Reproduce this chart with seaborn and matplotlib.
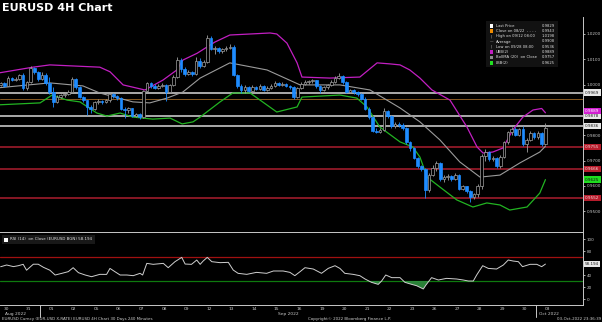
import numpy as np
import pandas as pd
import matplotlib
matplotlib.use("Agg")
import matplotlib.pyplot as plt
import matplotlib.transforms as mtransforms
from matplotlib.patches import Rectangle
import seaborn as sns

# ---------------------------------------------------------------------------
# EURUSD 4-hour bars, 30 Aug 2022 - 03 Oct 2022 (six bars per trading day)
# ---------------------------------------------------------------------------
first_open = 0.9995
close = [
    0.9998, 1.0008, 0.9996, 1.0028, 1.0020, 1.0024,  # 30 Aug
    1.0038, 0.9985, 1.0010, 1.0065, 1.0048, 1.0022,  # 31 Aug
    1.0040, 1.0006, 0.9970, 0.9932, 0.9952, 0.9958,  # 01 Sep
    0.9965, 0.9972, 1.0022, 0.9990, 0.9952, 0.9938,  # 02 Sep
    0.9912, 0.9905, 0.9930, 0.9936, 0.9930, 0.9938,  # 05 Sep
    0.9962, 0.9955, 0.9946, 0.9905, 0.9900, 0.9906,  # 06 Sep
    0.9878, 0.9884, 0.9874, 0.9975, 1.0005, 0.9995,  # 07 Sep
    0.9988, 0.9996, 0.9999, 0.9972, 0.9998, 1.0032,  # 08 Sep
    1.0098, 1.0060, 1.0042, 1.0048, 1.0044, 1.0095,  # 09 Sep
    1.0072, 1.0090, 1.0185, 1.0142, 1.0146, 1.0132,  # 12 Sep
    1.0140, 1.0146, 1.0150, 1.0040, 0.9996, 0.9980,  # 13 Sep
    0.9992, 0.9976, 0.9990, 0.9984, 0.9994, 0.9980,  # 14 Sep
    0.9988, 0.9996, 1.0008, 1.0000, 1.0004, 0.9996,  # 15 Sep
    0.9990, 0.9952, 0.9986, 1.0004, 1.0010, 1.0014,  # 16 Sep
    1.0018, 0.9995, 0.9980, 0.9990, 0.9998, 1.0012,  # 19 Sep
    1.0026, 1.0034, 1.0012, 0.9972, 0.9978, 0.9970,  # 20 Sep
    0.9962, 0.9945, 0.9904, 0.9872, 0.9818, 0.9814,  # 21 Sep
    0.9822, 0.9895, 0.9878, 0.9836, 0.9846, 0.9842,  # 22 Sep
    0.9828, 0.9772, 0.9750, 0.9712, 0.9678, 0.9668,  # 23 Sep
    0.9585, 0.9645, 0.9672, 0.9690, 0.9628, 0.9636,  # 26 Sep
    0.9640, 0.9628, 0.9642, 0.9590, 0.9598, 0.9580,  # 27 Sep
    0.9558, 0.9568, 0.9600, 0.9720, 0.9734, 0.9706,  # 28 Sep
    0.9712, 0.9678, 0.9716, 0.9772, 0.9812, 0.9826,  # 29 Sep
    0.9802, 0.9824, 0.9764, 0.9782, 0.9810, 0.9792,  # 30 Sep
    0.9808, 0.9764, 0.9829,                          # 03 Oct
]
high = [
    1.0006, 1.0012, 1.0012, 1.0035, 1.0032, 1.0030,
    1.0044, 1.0046, 1.0016, 1.0072, 1.0070, 1.0052,
    1.0048, 1.0046, 1.0030, 0.9990, 0.9960, 0.9964,
    0.9972, 0.9978, 1.0030, 1.0026, 0.9995, 0.9956,
    0.9938, 0.9918, 0.9935, 0.9942, 0.9940, 0.9945,
    0.9970, 0.9968, 0.9958, 0.9950, 0.9912, 0.9912,
    0.9908, 0.9890, 0.9888, 0.9980, 1.0012, 1.0010,
    1.0002, 1.0002, 1.0006, 1.0003, 1.0004, 1.0040,
    1.0110, 1.0104, 1.0068, 1.0056, 1.0054, 1.0110,
    1.0105, 1.0098, 1.0198, 1.0192, 1.0152, 1.0150,
    1.0146, 1.0152, 1.0160, 1.0155, 1.0042, 1.0002,
    0.9998, 0.9996, 0.9998, 0.9996, 1.0004, 0.9998,
    0.9994, 1.0002, 1.0015, 1.0012, 1.0010, 1.0008,
    1.0000, 0.9994, 0.9992, 1.0012, 1.0018, 1.0020,
    1.0024, 1.0020, 0.9998, 0.9996, 1.0004, 1.0020,
    1.0036, 1.0046, 1.0038, 1.0016, 0.9984, 0.9982,
    0.9976, 0.9966, 0.9950, 0.9910, 0.9876, 0.9830,
    0.9830, 0.9908, 0.9900, 0.9882, 0.9852, 0.9852,
    0.9850, 0.9832, 0.9778, 0.9755, 0.9716, 0.9684,
    0.9672, 0.9652, 0.9682, 0.9698, 0.9694, 0.9642,
    0.9648, 0.9644, 0.9650, 0.9648, 0.9604, 0.9600,
    0.9584, 0.9574, 0.9608, 0.9726, 0.9745, 0.9738,
    0.9718, 0.9716, 0.9722, 0.9778, 0.9818, 0.9832,
    0.9834, 0.9830, 0.9836, 0.9790, 0.9816, 0.9814,
    0.9816, 0.9812, 0.9849,
]
low = [
    0.9988, 0.9995, 0.9990, 0.9994, 1.0014, 1.0016,
    1.0018, 0.9978, 0.9980, 1.0005, 1.0042, 1.0016,
    1.0018, 1.0000, 0.9962, 0.9912, 0.9928, 0.9946,
    0.9952, 0.9960, 0.9966, 0.9982, 0.9946, 0.9930,
    0.9880, 0.9890, 0.9898, 0.9924, 0.9924, 0.9926,
    0.9932, 0.9946, 0.9938, 0.9898, 0.9868, 0.9890,
    0.9872, 0.9872, 0.9866, 0.9870, 0.9970, 0.9988,
    0.9982, 0.9984, 0.9990, 0.9936, 0.9966, 0.9995,
    1.0028, 1.0050, 1.0036, 1.0040, 1.0036, 1.0040,
    1.0066, 1.0068, 1.0085, 1.0136, 1.0120, 1.0126,
    1.0126, 1.0134, 1.0140, 1.0034, 0.9988, 0.9968,
    0.9966, 0.9970, 0.9972, 0.9978, 0.9980, 0.9974,
    0.9974, 0.9984, 0.9990, 0.9994, 0.9994, 0.9990,
    0.9984, 0.9945, 0.9948, 0.9982, 1.0000, 1.0004,
    1.0006, 0.9988, 0.9968, 0.9975, 0.9984, 0.9994,
    1.0008, 1.0022, 1.0004, 0.9966, 0.9966, 0.9962,
    0.9955, 0.9938, 0.9898, 0.9866, 0.9812, 0.9808,
    0.9808, 0.9818, 0.9870, 0.9830, 0.9828, 0.9834,
    0.9822, 0.9766, 0.9740, 0.9706, 0.9670, 0.9660,
    0.9553, 0.9578, 0.9640, 0.9660, 0.9620, 0.9614,
    0.9622, 0.9620, 0.9622, 0.9584, 0.9584, 0.9574,
    0.9536, 0.9548, 0.9556, 0.9590, 0.9700, 0.9700,
    0.9700, 0.9672, 0.9670, 0.9710, 0.9766, 0.9800,
    0.9798, 0.9798, 0.9758, 0.9734, 0.9776, 0.9786,
    0.9786, 0.9758, 0.9762,
]

# Bollinger bands (20, 2) on close, sampled along the bar axis
ubb_bar = [0, 9.6, 14.1, 27.4, 30.1, 33.6, 39.4, 44.2, 47.9, 49.5, 53.3, 58.0,
           62.0, 67.4, 72.7, 74.5, 77.2, 79.9, 81.2, 88.6, 96.6, 101.2, 104.6,
           107.3, 109.9, 112.6, 115.8, 120.6, 125.1, 127.8, 129.4, 132.0, 134.7,
           137.3, 140.0, 142.7, 145.0, 146]
ubb = [1.0045, 1.0069, 1.0078, 1.0069, 1.0051, 0.9999, 0.9979, 1.0018, 1.0058,
       1.0097, 1.0124, 1.0168, 1.0196, 1.0200, 1.0204, 1.0200, 1.0164, 1.0086,
       1.0030, 1.0026, 1.0030, 1.0086, 1.0082, 1.0078, 1.0058, 1.0026, 0.9979,
       0.9939, 0.9833, 0.9754, 0.9730, 0.9734, 0.9750, 0.9821, 0.9872, 0.9900,
       0.9906, 0.9889]
mid_bar = [0, 14.1, 22.9, 27.4, 36.2, 40.7, 45.3, 49.5, 54.1, 62.0, 71.9, 80.7,
           91.3, 99.3, 107.3, 112.6, 117.9, 123.2, 128.6, 133.9, 139.2, 144.5, 146]
mid = [0.9987, 1.0007, 0.9995, 0.9967, 0.9932, 0.9928, 0.9947, 0.9971, 1.0026,
       1.0086, 1.0058, 0.9999, 0.9999, 0.9979, 0.9908, 0.9853, 0.9782, 0.9695,
       0.9635, 0.9643, 0.9691, 0.9734, 0.9757]
lbb_bar = [0, 11.5, 14.7, 18.7, 22.1, 26.6, 29.3, 32.8, 36.2, 41.5, 46.1, 49.3,
           52.2, 54.1, 59.4, 62.8, 67.4, 74.5, 79.9, 81.2, 91.3, 95.8, 98.5,
           101.9, 107.3, 110.7, 112.6, 114.5, 117.9, 122.4, 126.7, 130.4, 133.9,
           136.5, 141.1, 144.5, 146]
lbb = [0.9920, 0.9928, 0.9959, 0.9939, 0.9932, 0.9888, 0.9876, 0.9888, 0.9872,
       0.9864, 0.9868, 0.9845, 0.9853, 0.9872, 0.9932, 0.9967, 0.9967, 0.9892,
       0.9912, 0.9951, 0.9959, 0.9947, 0.9912, 0.9833, 0.9774, 0.9754, 0.9714,
       0.9635, 0.9596, 0.9545, 0.9517, 0.9533, 0.9525, 0.9505, 0.9517, 0.9572,
       0.9625]

# RSI (14) on close
rsi_bar = [1, 2.6, 4.4, 5.7, 7, 7.9, 9.7, 11, 12.4, 14.1, 15.5, 17.3, 19, 20.3,
           21.7, 23.5, 25.2, 27.4, 29.2, 30.1, 31.4, 32.8, 34.6, 36.3, 38.1,
           38.8, 39.9, 41.6, 44.3, 45.6, 47.4, 49.2, 50.1, 51.8, 53.2, 54.1,
           54.9, 56, 57.2, 59.4, 61.6, 62.9, 64.2, 66.5, 69.1, 71.8, 73.6, 76.2,
           78, 79.3, 80.7, 82, 84.2, 86.4, 88.2, 90, 91.3, 92.6, 94.8, 96.6, 98,
           99.7, 101.5, 102.4, 103.5, 105.1, 107.3, 108.6, 110.4, 111.7, 113.5,
           114.2, 115.7, 117.5, 119.7, 122.4, 124.1, 125.5, 126.8, 127.7, 129.3,
           130.8, 133, 134.8, 136.1, 137.4, 138.8, 139.9, 141.9, 143.7, 145,
           146]
rsi = [53.8, 56.7, 54, 55.5, 57.8, 48, 58, 58, 52.8, 48, 40, 42.8, 45.6, 52.2,
       43.9, 40, 37.2, 41.1, 41, 51, 45.6, 40, 40, 38.9, 42.8, 40, 59.4, 57.8,
       59.4, 52.2, 62.2, 69.4, 58.3, 57.8, 65, 57.8, 63.3, 69.4, 62.2, 60.6,
       61.1, 48.3, 42.8, 41.1, 44.4, 42.8, 46.7, 46.7, 44.4, 38.9, 45.6, 52.2,
       50, 42.8, 51.1, 55.5, 51, 42.8, 41.1, 38.9, 33.3, 27.8, 24.4, 30, 40,
       35.6, 35.6, 27.8, 24.4, 22.2, 16.7, 23.3, 35.6, 31.7, 34.4, 33.3, 31.7,
       30, 30, 40, 55.5, 51, 50, 56.7, 65, 63.3, 62.2, 53.9, 57.8, 57.8, 53.9,
       58.194]

# Reference levels
close_0822 = 0.9943
white_levels = [0.9969, 0.9878, 0.9836]
red_levels = [0.9755, 0.9666, 0.9552]

price_ticks = [0.95, 0.96, 0.97, 0.98, 0.99, 1.00, 1.01, 1.02]
rsi_ticks = [0, 20, 40, 60, 80, 100]

day_labels = ["30", "31", "01", "02", "05", "06", "07", "08", "09", "12", "13",
              "14", "15", "16", "19", "20", "21", "22", "23", "26", "27", "28",
              "29", "30", "03"]
month_labels = ["Aug 2022", "Sep 2022", "Oct 2022"]

legend_labels = ["Last Price", "Close on 08/22  - - - -", "High on 09/12 08:00",
                 "Average", "Low on 09/28 08:00", "UBB(2)",
                 "BollMA (20)  on Close", "LBB(2)"]
legend_values = ["0.9829", "0.9943", "1.0198", "0.9908", "0.9536", "0.9889",
                 "0.9757", "0.9625"]

# ---------------------------------------------------------------------------
BLUE = "#1e8cff"
UPC = "#a0a0a0"
MAG = "#c21fc2"
GRN = "#22b422"
MIDC = "#9b9b9b"
AXC = "#c8c8c8"
LVL_RED = "#9e1b2b"

sns.set_theme(style="dark")
sns.set_style("dark", {"axes.facecolor": "black", "figure.facecolor": "black",
                       "axes.edgecolor": AXC, "grid.color": "black",
                       "text.color": "white", "xtick.color": AXC,
                       "ytick.color": AXC})
plt.rcParams["font.family"] = ["DejaVu Sans"]

W, H = 602, 322
fig = plt.figure(figsize=(W / 100, H / 100), dpi=100, facecolor="black")
ax = fig.add_axes([0, 90 / H, 583 / W, 215 / H])
axr = fig.add_axes([0, 17 / H, 583 / W, 73 / H], sharex=ax)

n = len(close)
bars = np.arange(n)
opens = [first_open] + close[:-1]
df = pd.DataFrame({"bar": bars, "open": opens, "high": high, "low": low,
                   "close": close})
df["up"] = df["close"] >= df["open"]

# Candles: wicks, then bodies (hollow up bars, solid blue down bars)
wick_col = np.where(df["up"], UPC, BLUE)
ax.vlines(df["bar"], df["low"], df["high"], colors=wick_col, lw=0.6, zorder=3)
body_lo = np.minimum(df["open"], df["close"])
body_h = np.maximum((df["close"] - df["open"]).abs(), 0.00018)
ax.bar(df["bar"], body_h, bottom=body_lo, width=0.7,
       color=np.where(df["up"], "black", BLUE),
       edgecolor=np.where(df["up"], UPC, BLUE), linewidth=0.5, zorder=4)

# Bollinger bands
sns.lineplot(x=ubb_bar, y=ubb, ax=ax, color=MAG, lw=0.9, zorder=2)
sns.lineplot(x=mid_bar, y=mid, ax=ax, color=MIDC, lw=0.8, zorder=2)
sns.lineplot(x=lbb_bar, y=lbb, ax=ax, color=GRN, lw=0.9, zorder=2)

# Horizontal levels
for lv in white_levels:
    ax.axhline(lv, color="#d8d8d8", lw=1.1, zorder=1)
for lv in red_levels:
    ax.axhline(lv, color=LVL_RED, lw=1.2, zorder=1)
ax.axhline(close_0822, color="#8a5a22", lw=0.7, zorder=1)

ax.set_xlim(0.83, 156.0)
ax.set_ylim(0.94183, 1.02671)
ax.yaxis.tick_right()
ax.set_yticks(price_ticks)
# the 0.9900 tick sits under the UBB value tag
ax.set_yticklabels(["" if abs(v - 0.99) < 1e-9 else f"{v:.4f}" for v in price_ticks])
ax.tick_params(axis="y", which="both", length=1.6, width=0.6, pad=1.0,
               labelsize=3.0, colors=AXC, right=True, left=False)
ax.tick_params(axis="x", bottom=False, labelbottom=False)
for s in ["left", "top", "bottom"]:
    ax.spines[s].set_visible(False)
ax.spines["right"].set_color(AXC)
ax.spines["right"].set_linewidth(0.7)
ax.grid(False)
ax.set_xlabel("")
ax.set_ylabel("")

# value boxes on the price scale
ytr = mtransforms.blended_transform_factory(ax.transAxes, ax.transData)


def tag(axis, trans, y, text, fc, tc):
    axis.text(1.0035, y, text, transform=trans, fontsize=2.95, color=tc,
              va="center", ha="left", zorder=10, clip_on=False,
              bbox=dict(boxstyle="square,pad=0.28", fc=fc, ec="none"))


for lv in white_levels:
    tag(ax, ytr, lv, f"{lv:.4f}", "#e6e6e6", "#202020")
for lv in red_levels:
    tag(ax, ytr, lv, f"{lv:.4f}", "#b81c2c", "#f0d8d8")
tag(ax, ytr, ubb[-1] + 0.0007, f"{ubb[-1]:.4f}", "#d21fd2", "white")
tag(ax, ytr, lbb[-1], f"{lbb[-1]:.4f}", "#1fdc1f", "#101010")

# ---------------- RSI panel ----------------
sns.lineplot(x=rsi_bar, y=rsi, ax=axr, color="#cfcfcf", lw=0.7, zorder=3)
axr.axhline(70, color="#a01010", lw=0.9, zorder=1)
axr.axhline(30, color="#0e7a0e", lw=0.9, zorder=1)
rb = np.array(rsi_bar, dtype=float)
rv = np.array(rsi, dtype=float)
axr.fill_between(rb, rv, 30, where=rv < 30, interpolate=True,
                 color="#2f8f3f", alpha=0.9, lw=0, zorder=2)
axr.set_ylim(-10, 111.7)
axr.yaxis.tick_right()
axr.set_yticks(rsi_ticks)
# the 60 tick sits under the last-value tag
axr.set_yticklabels(["" if v == 60 else str(v) for v in rsi_ticks])
axr.tick_params(axis="y", length=1.6, width=0.6, pad=1.0, labelsize=3.0,
                colors=AXC, right=True, left=False)
axr.spines["left"].set_visible(False)
for s in ["right", "top", "bottom"]:
    axr.spines[s].set_color(AXC)
    axr.spines[s].set_linewidth(0.7)
axr.grid(False)
axr.set_xlabel("")
axr.set_ylabel("")
rtr = mtransforms.blended_transform_factory(axr.transAxes, axr.transData)
tag(axr, rtr, rsi[-1], f"{rsi[-1]:.3f}", "#e6e6e6", "#202020")

day_pos = [6 * i + 2.5 for i in range(len(day_labels))]
axr.set_xticks(day_pos)
axr.set_xticklabels(day_labels)
axr.tick_params(axis="x", length=0, pad=1.2, labelsize=3.2, colors=AXC)

xtr = mtransforms.blended_transform_factory(axr.transData, axr.transAxes)
for xb in [11.5, 143.5]:
    axr.plot([xb, xb], [0, -0.16], transform=xtr, color=AXC, lw=0.7,
             clip_on=False)
for xm, lab in zip([5.0, 77.5, 147.0], month_labels):
    axr.text(xm, -0.125, lab, transform=xtr, fontsize=3.2, color=AXC,
             ha="center", va="center")

# RSI legend chip
fig.add_artist(Rectangle((2 / W, 1 - 244 / H), 93 / W, 9 / H,
                         transform=fig.transFigure, fc="#181818", ec="none"))
fig.add_artist(Rectangle((4 / W, 1 - 241.5 / H), 3.5 / W, 3.5 / H,
                         transform=fig.transFigure, fc="white", ec="none"))
fig.text(10 / W, 1 - 239.5 / H, "RSI (14)  on Close (EURUSD BGN) 58.194",
         fontsize=2.9, color="#e0e0e0", va="center", ha="left")

# ---------------- price legend ----------------
fig.add_artist(Rectangle((486 / W, 1 - 67 / H), 72 / W, 46 / H,
                         transform=fig.transFigure, fc="#121212", ec="none"))
icons = ["white", "#f08c00", None, None, None, MAG, "#8c8c8c", "#22e022"]
for i, (lab, val, ic) in enumerate(zip(legend_labels, legend_values, icons)):
    yy = 25.6 + 5.3 * i
    if ic is not None:
        fig.add_artist(Rectangle((489.5 / W, 1 - (yy + 1.9) / H), 3.8 / W,
                                 3.8 / H, transform=fig.transFigure, fc=ic,
                                 ec="none"))
    else:
        mark = "\u2014" if lab == "Average" else "|"
        fig.text(491.4 / W, 1 - yy / H, mark, fontsize=2.6, color="#c0c0c0",
                 ha="center", va="center")
    fig.text(495.5 / W, 1 - yy / H, lab, fontsize=2.7, color="#e0e0e0",
             ha="left", va="center")
    fig.text(555 / W, 1 - yy / H, val, fontsize=2.7, color="#e0e0e0",
             ha="right", va="center")

# ---------------- titles and footer ----------------
fig.text(2 / W, 1 - 8 / H, "EURUSD 4H Chart", fontsize=8, fontweight="bold",
         color="white", ha="left", va="center")
fig.text(2 / W, 1 - 319 / H,
         "EURUSD Curncy (EUR-USD X-RATE) EURUSD 4H Chart 30 Days 240 Minutes",
         fontsize=2.9, color="#cfcfcf", ha="left", va="center")
fig.text(350 / W, 1 - 319 / H, "Copyright\u00a9 2022 Bloomberg Finance L.P.",
         fontsize=2.9, color="#cfcfcf", ha="center", va="center")
fig.text(601 / W, 1 - 319 / H, "03-Oct-2022 23:36:39", fontsize=2.9,
         color="#cfcfcf", ha="right", va="center")

fig.savefig("out.png", dpi=100, facecolor="black")
